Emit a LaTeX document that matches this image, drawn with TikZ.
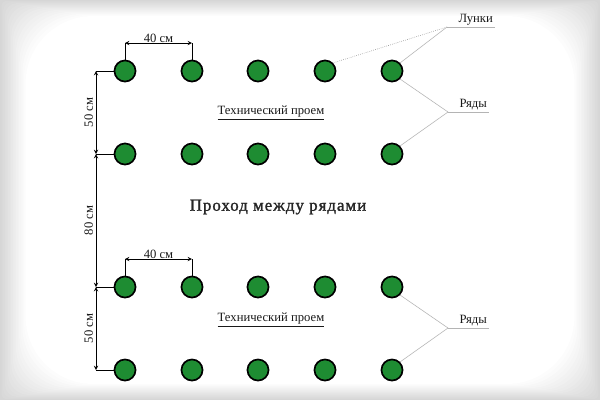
\documentclass[tikz,border=0pt]{standalone}
\usepackage{fontspec}
\setmainfont{Liberation Serif}
\usetikzlibrary{arrows,calc,positioning}

\begin{document}
\begin{tikzpicture}[x=0.25mm,y=-0.25mm]
% ------------------------------------------------ colours of the plan
\definecolor{hole_green}{RGB}{30,140,50}
\definecolor{lead_gray}{RGB}{180,180,180}
\tikzset{
  hole/.style={circle,draw=black,line width=1.2pt,fill=hole_green,minimum size=15pt,inner sep=0},
  dimline/.style={thin,>=stealth,<->},
  tick/.style={thin},
  lead/.style={lead_gray,thin},
  txt/.style={font=\small,text=black!90,inner sep=1pt},
}

% background: soft grey edge fading to white
\foreach \i in {0,...,16}
  \fill[black!\the\numexpr 16-\i\relax,rounded corners=\i*3] (\i*1.6,\i) rectangle (600-\i*1.6,400-\i);
\useasboundingbox (0,0) rectangle (600,400);

% holes: four rows of five
\foreach \r/\y in {1/71,2/154,3/287,4/370}{
  \foreach \c/\x in {1/125,2/192,3/258,4/325,5/392}
    \node[hole] (h\r\c) at (\x,\y) {};
  \coordinate (d\r) at (96,\y);
  \draw[tick] (d\r) -- (h\r1.west);
}

% vertical dimensions
\draw[dimline] (d1) -- (d2) node[midway,left=1pt,rotate=90,anchor=south,txt] {50 см};
\draw[dimline] (d2) -- (d3) node[midway,left=1pt,rotate=90,anchor=south,txt] {80 см};
\draw[dimline] (d3) -- (d4) node[midway,left=1pt,rotate=90,anchor=south,txt] {50 см};

% horizontal dimensions
\coordinate (a1) at (125,43);
\coordinate (a2) at (192,43);
\draw[tick] (a1) -- (h11.north);
\draw[tick] (a2) -- (h12.north);
\draw[dimline] (a1) -- (a2) node[midway,above=-1pt,txt] {40 см};
\coordinate (b1) at (125,259);
\coordinate (b2) at (192,259);
\draw[tick] (b1) -- (h31.north);
\draw[tick] (b2) -- (h32.north);
\draw[dimline] (b1) -- (b2) node[midway,above=-1pt,txt] {40 см};

% texts between the rows
\node[txt] (gap1) at (271,113) {\underline{Технический проем}};
\node[txt] (gap2) at (271,320) {\underline{Технический проем}};
\node[txt,font=\large,text=black!85] (path) at (278,207) {\addfontfeatures{LetterSpace=6,FakeBold=1.5}Проход между рядами};

% leaders on the right
\coordinate (lunki) at (447,27);
\node[txt,anchor=south west] (lunkitxt) at ([xshift=7pt]lunki) {Лунки};
\draw[lead] (lunki) -- (lunki -| lunkitxt.east);
\draw[lead,gray,densely dotted] (lunki) -- (h14.north east);
\draw[lead] (lunki) -- (h15.north east);

\coordinate (rjady1) at (448,112);
\node[txt,anchor=south west] (rjady1txt) at ([xshift=7pt]rjady1) {Ряды};
\draw[lead] (rjady1) -- (rjady1 -| rjady1txt.east);
\draw[lead] (rjady1) -- (h15.south east);
\draw[lead] (rjady1) -- (h25.north east);

\coordinate (rjady2) at (448,328);
\node[txt,anchor=south west] (rjady2txt) at ([xshift=7pt]rjady2) {Ряды};
\draw[lead] (rjady2) -- (rjady2 -| rjady2txt.east);
\draw[lead] (rjady2) -- (h35.south east);
\draw[lead] (rjady2) -- (h45.north east);

\end{tikzpicture}
\end{document}
